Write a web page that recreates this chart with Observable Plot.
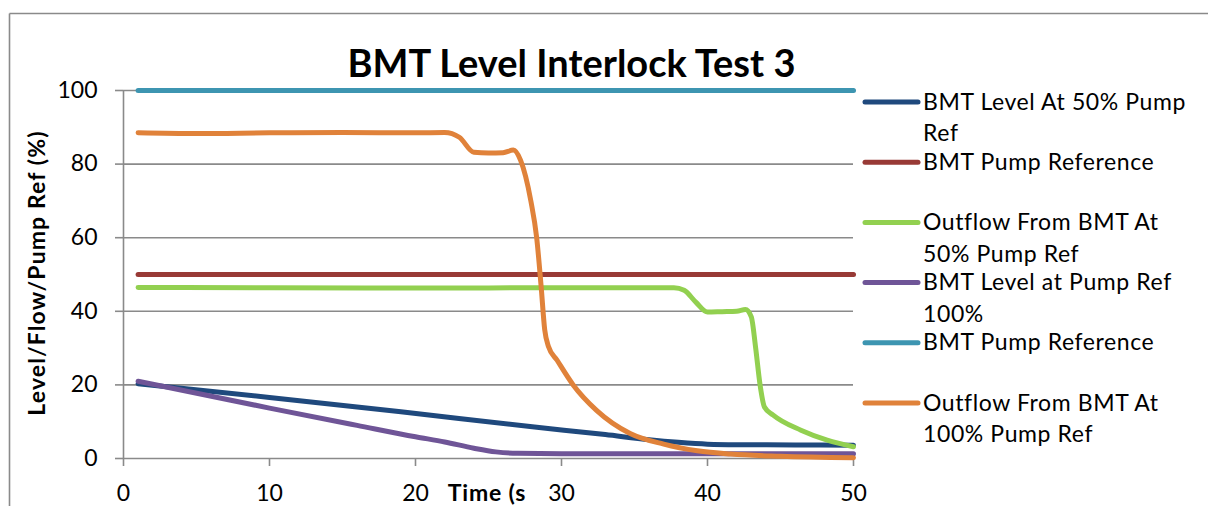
<!DOCTYPE html>
<html>
<head>
<meta charset="utf-8">
<script src="https://cdn.jsdelivr.net/npm/d3@7"></script>
<script src="https://cdn.jsdelivr.net/npm/@observablehq/plot@0.6"></script>
<style>
  html, body { margin: 0; padding: 0; background: #fff; }
  #chart svg { display: block; }
</style>
</head>
<body>
<div id="chart"></div>
<script>
// ---- Data ----
const title = "BMT Level Interlock Test 3";
const xTitle = "Time (s";
const yTitle = "Level/Flow/Pump Ref (%)";
const xTicks = [0, 10, 20, 30, 40, 50];
const yTicks = [0, 20, 40, 60, 80, 100];

const seriesNames = [
  ["BMT Level At 50% Pump", "Ref"],
  ["BMT Pump Reference"],
  ["Outflow From BMT At", "50% Pump Ref"],
  ["BMT Level at Pump Ref", "100%"],
  ["BMT Pump Reference"],
  ["Outflow From BMT At", "100% Pump Ref"]
];
const seriesColors = ["#1F497D", "#983A36", "#92D050", "#6F5597", "#3D95B1", "#E0823A"];

// BMT Level At 50% Pump Ref
const level50T = [1, 10, 19, 28, 33, 36, 38, 40, 42, 46, 50];
const level50V = [20.3, 16.6, 12.7, 8.6, 6.5, 5.1, 4.4, 3.9, 3.75, 3.7, 3.6];
// BMT Pump Reference (50%)
const pumpRef50T = [1, 50];
const pumpRef50V = [50, 50];
// Outflow From BMT At 50% Pump Ref
const outflow50T = [1, 10, 20, 30, 37.7, 38.4, 39.2, 40, 41, 42, 42.6, 43, 43.3, 43.6, 43.9, 44.5, 46.4, 48.2, 50];
const outflow50V = [46.5, 46.4, 46.3, 46.4, 46.4, 45.7, 42.5, 39.8, 39.9, 40.0, 40.5, 38.5, 30, 20, 14, 11.8, 7.7, 5.0, 3.2];
// BMT Level at Pump Ref 100%
const level100T = [1, 10, 16, 20, 22, 24, 25.5, 27, 30, 40, 50];
const level100V = [21.0, 13.7, 9.0, 5.9, 4.5, 2.8, 1.8, 1.4, 1.3, 1.3, 1.3];
// BMT Pump Reference (100%)
const pumpRef100T = [1, 50];
const pumpRef100V = [100, 100];
// Outflow From BMT At 100% Pump Ref
const outflow100T = [1, 5, 10, 15, 20, 22, 23, 24, 25, 26, 26.7, 27.2, 27.9, 28.3, 28.6, 28.85, 29.1, 29.7, 30.8, 32.4, 34.7, 37, 39.3, 41.6, 45, 50];
const outflow100V = [88.5, 88.3, 88.5, 88.6, 88.5, 88.6, 87.3, 83.2, 83.0, 83.1, 83.8, 81, 70, 60, 47, 35, 30.5, 26.7, 20, 13.1, 6.8, 3.9, 2.1, 1.2, 0.6, 0.2];

const seriesT = [level50T, pumpRef50T, outflow50T, level100T, pumpRef100T, outflow100T];
const seriesV = [level50V, pumpRef50V, outflow50V, level100V, pumpRef100V, outflow100V];

const tables = seriesT.map((ts, i) => ts.map((t, j) => ({t, v: seriesV[i][j]})));

const font = "Lato, 'Open Sans', sans-serif";
const gridColor = "#8A8A8A";

const chart = Plot.plot({
  width: 1208,
  height: 506,
  marginLeft: 123,
  marginRight: 355,
  marginTop: 90,
  marginBottom: 48,
  x: {domain: [0, 50]},
  y: {domain: [0, 100]},
  style: {fontFamily: font, fontSize: "23px", color: "#000", background: "#fff", overflow: "visible"},
  marks: [
    Plot.gridY(yTicks.filter(d => d > 0), {stroke: gridColor, strokeOpacity: 1, strokeWidth: 1.6}),
    Plot.ruleY([0], {stroke: gridColor, strokeWidth: 1.6}),
    Plot.ruleX([0], {stroke: gridColor, strokeWidth: 1.6}),
    Plot.axisY({ticks: yTicks, tickSize: 8, tickPadding: 18, stroke: gridColor, strokeWidth: 1.6, fill: "#000", label: null}),
    Plot.axisX({ticks: xTicks, tickSize: 8, tickPadding: 18, stroke: gridColor, strokeWidth: 1.6, fill: "#000", label: null}),
    ...tables.map((data, i) => Plot.line(data, {
      x: "t", y: "v", stroke: seriesColors[i], strokeWidth: 5,
      curve: "monotone-x", strokeLinecap: "round", strokeLinejoin: "round"
    }))
  ]
});

document.getElementById("chart").appendChild(chart);

// ---- Decorations: frame, titles, legend ----
const svg = d3.select(chart);

svg.append("line").attr("x1", 9.5).attr("x2", 1208).attr("y1", 13.5).attr("y2", 13.5)
  .attr("stroke", gridColor).attr("stroke-width", 1.6);
svg.append("line").attr("x1", 9.5).attr("x2", 9.5).attr("y1", 13.5).attr("y2", 506)
  .attr("stroke", gridColor).attr("stroke-width", 1.6);

svg.append("text").text(title)
  .attr("x", 571.5).attr("y", 76.5).attr("text-anchor", "middle")
  .attr("font-family", font).attr("font-weight", "bold").attr("font-size", 38).attr("fill", "#000");

svg.append("text").text(xTitle)
  .attr("x", 487).attr("y", 500.5).attr("text-anchor", "middle")
  .attr("font-family", font).attr("font-weight", "bold").attr("font-size", 23)
  .attr("letter-spacing", 0.8).attr("fill", "#000");

svg.append("text").text(yTitle)
  .attr("transform", "translate(45,273) rotate(-90)").attr("text-anchor", "middle")
  .attr("font-family", font).attr("font-weight", "bold").attr("font-size", 23)
  .attr("letter-spacing", 1.1).attr("fill", "#000");

const legend = svg.append("g").attr("text-anchor", "start");
seriesNames.forEach((lines, i) => {
  const cy = 102 + 60.2 * i;
  legend.append("line").attr("x1", 865).attr("x2", 918).attr("y1", cy).attr("y2", cy)
    .attr("stroke", seriesColors[i]).attr("stroke-width", 5).attr("stroke-linecap", "round");
  const t = legend.append("text").attr("x", 923).attr("y", cy + 7.5).attr("text-anchor", "start")
    .attr("font-family", font).attr("font-size", 23).attr("letter-spacing", 0.6).attr("fill", "#000");
  lines.forEach((ln, k) => {
    t.append("tspan").attr("x", 923).attr("y", cy + 7.5 + 31.7 * k).text(ln);
  });
});
</script>
</body>
</html>
